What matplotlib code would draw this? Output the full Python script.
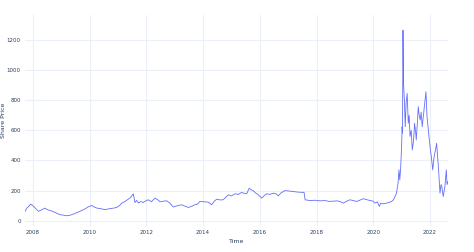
import matplotlib
matplotlib.use('Agg')  # Non-interactive backend
import matplotlib.pyplot as plt
import matplotlib.dates as mdates
import pandas as pd

# share price history
dates = [
    "2007-09-20", "2007-10-15", "2007-11-06", "2007-12-01", "2008-01-01", "2008-02-06",
    "2008-03-14", "2008-04-20", "2008-06-03", "2008-07-01", "2008-08-07", "2008-09-12",
    "2008-10-12", "2008-12-13", "2009-01-18", "2009-03-10", "2009-04-20", "2009-06-03",
    "2009-07-20", "2009-09-20", "2009-11-06", "2009-12-13", "2010-01-26", "2010-02-24",
    "2010-04-01", "2010-05-26", "2010-07-16", "2010-09-12", "2010-11-06", "2010-12-13",
    "2011-01-18", "2011-02-17", "2011-04-01", "2011-05-11", "2011-06-13", "2011-07-16",
    "2011-08-07", "2011-08-29", "2011-09-20", "2011-10-19", "2011-11-21", "2011-12-24",
    "2012-01-26", "2012-03-07", "2012-04-20", "2012-05-26", "2012-06-25", "2012-08-07",
    "2012-09-20", "2012-10-26", "2012-12-13", "2013-02-06", "2013-03-29", "2013-05-08",
    "2013-06-25", "2013-08-07", "2013-09-16", "2013-10-19", "2013-11-21", "2014-01-01",
    "2014-03-07", "2014-04-20", "2014-05-26", "2014-06-25", "2014-08-07", "2014-09-16",
    "2014-10-19", "2014-11-21", "2015-01-01", "2015-02-17", "2015-04-01", "2015-05-11",
    "2015-06-13", "2015-07-16", "2015-08-18", "2015-09-12", "2015-10-08", "2015-11-06",
    "2015-12-13", "2016-01-26", "2016-02-24", "2016-03-28", "2016-05-08", "2016-06-25",
    "2016-08-01", "2016-08-26", "2016-10-01", "2016-11-21", "2017-01-01", "2017-03-07",
    "2017-05-08", "2017-07-13", "2017-07-24", "2017-08-07", "2017-10-08", "2017-12-13",
    "2018-02-14", "2018-04-20", "2018-06-13", "2018-08-04", "2018-09-20", "2018-10-30",
    "2018-12-13", "2019-01-18", "2019-03-07", "2019-04-20", "2019-06-03", "2019-07-20",
    "2019-08-26", "2019-10-08", "2019-11-21", "2020-01-01", "2020-01-23", "2020-02-24",
    "2020-03-20", "2020-04-07", "2020-05-08", "2020-06-21", "2020-07-27", "2020-08-26",
    "2020-09-20", "2020-10-08", "2020-10-26", "2020-11-06", "2020-11-17", "2020-11-28",
    "2020-12-09", "2020-12-20", "2021-01-01", "2021-01-08", "2021-01-13", "2021-01-19",
    "2021-01-26", "2021-02-06", "2021-02-17", "2021-02-28", "2021-03-14", "2021-03-28",
    "2021-04-08", "2021-04-20", "2021-05-05", "2021-05-19", "2021-06-01", "2021-06-10",
    "2021-06-17", "2021-07-01", "2021-07-09", "2021-07-22", "2021-08-04", "2021-08-16",
    "2021-08-29", "2021-09-10", "2021-09-24", "2021-10-05", "2021-10-16", "2021-10-28",
    "2021-11-11", "2021-11-25", "2021-12-08", "2021-12-20", "2022-01-05", "2022-01-19",
    "2022-02-06", "2022-02-24", "2022-03-14", "2022-03-28", "2022-04-10", "2022-04-20",
    "2022-05-11", "2022-05-24", "2022-06-03", "2022-06-21", "2022-07-13", "2022-07-31",
    "2022-08-10", "2022-08-22",
]
prices = [
    62, 85, 95, 110, 100, 80,
    62, 72, 84, 74, 68, 62,
    55, 40, 38, 33, 36, 44,
    54, 68, 80, 92, 101, 92,
    84, 80, 73, 80, 84, 88,
    100, 117, 128, 143, 155, 179,
    121, 135, 117, 128, 121, 132,
    139, 126, 150, 140, 126, 130,
    132, 118, 91, 100, 106, 98,
    88, 96, 106, 110, 128, 126,
    124, 106, 130, 143, 138, 139,
    155, 172, 165, 179, 175, 188,
    182, 179, 216, 205, 200, 185,
    172, 150, 165, 179, 175, 183,
    178, 165, 185, 200, 198, 194,
    190, 188, 190, 139, 134, 136,
    132, 134, 128, 130, 132, 128,
    117, 128, 139, 134, 128, 138,
    146, 140, 134, 130, 117, 125,
    95, 117, 112, 117, 122, 128,
    140, 161, 180, 216, 250, 338,
    271, 350, 492, 624, 582, 1265,
    913, 801, 624, 781, 845, 647,
    700, 560, 600, 470, 520, 580,
    647, 590, 536, 640, 757, 700,
    669, 720, 624, 680, 735, 790,
    856, 690, 620, 558, 480, 426,
    338, 426, 470, 514, 430, 360,
    183, 240, 227, 161, 227, 338,
    240, 260,
]

x = pd.to_datetime(dates)

fig = plt.figure(figsize=(4.74, 2.52), dpi=100)
ax = fig.add_axes([25 / 474, 26 / 252, 423 / 474, 211 / 252])

ax.plot(x, prices, color='#636efa', lw=0.6)

# plotly_white look
ax.set_facecolor('white')
for s in ax.spines.values():
    s.set_visible(False)
ax.grid(True, color='#ebf0f8', lw=0.8)
ax.set_axisbelow(True)
ax.tick_params(length=0, labelsize=4, colors='#2a3f5f', pad=3)

ax.set_xlim(x[0], x[-1])
ax.set_ylim(-35, 1366)
ax.set_yticks([0, 200, 400, 600, 800, 1000, 1200])
ax.xaxis.set_major_locator(mdates.YearLocator(2))
ax.xaxis.set_major_formatter(mdates.DateFormatter('%Y'))

ax.set_xlabel('Time', fontsize=4.5, color='#2a3f5f', labelpad=3)
ax.set_ylabel('Share Price', fontsize=4.5, color='#2a3f5f')
ax.yaxis.set_label_coords(-0.045, 0.5)

fig.savefig('out.png', dpi=100)
plt.close(fig)
